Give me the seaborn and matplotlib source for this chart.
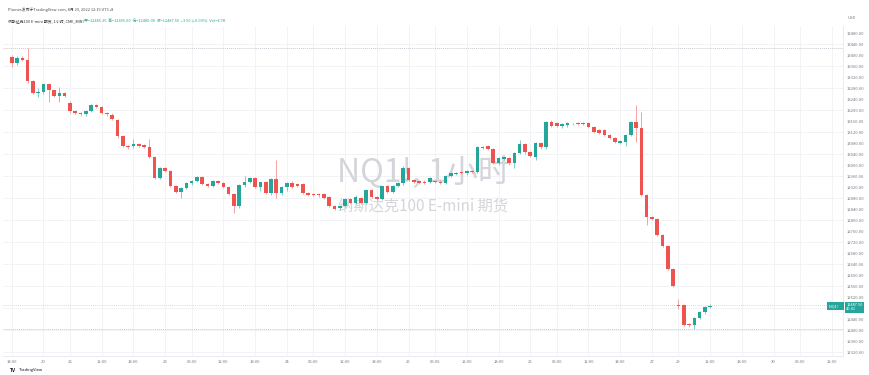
import numpy as np
import pandas as pd
import seaborn as sns
import matplotlib.pyplot as plt

# -----------------------------
# Data: NQ1! hourly bars, 19 Aug 18:00 -> 29 Aug 12:00 (UTC+8)
# -----------------------------
opens = [13393, 13370, 13389, 13382, 13305, 13262, 13266, 13295, 13273, 13251, 13262,
         13225, 13196, 13189, 13185, 13196, 13218, 13210, 13189, 13182, 13164, 13105,
         13069, 13069, 13076, 13072, 13065, 13029, 12953, 12989, 12978, 12924, 12902,
         12916, 12935, 12942, 12956, 12931, 12924, 12942, 12935, 12920, 12895, 12851,
         12927, 12938, 12953, 12920, 12938, 12898, 12949, 12898, 12920, 12935, 12931,
         12931, 12898, 12895, 12895, 12894, 12884, 12851, 12844, 12851, 12876, 12862,
         12880, 12862, 12909, 12884, 12876, 12924, 12902, 12924, 12934, 12989, 12946,
         12942, 12940, 12938, 12942, 12940, 12934, 12960, 12967, 12975, 12971, 12978,
         12975, 13065, 13068, 13058, 13007, 13022, 13025, 13007, 13044, 13076, 13047,
         13030, 13080, 13065, 13156, 13152, 13142, 13146, 13150, 13153, 13149, 13153,
         13138, 13127, 13127, 13109, 13098, 13080, 13084, 13109, 13156, 13134, 12891,
         12811, 12804, 12745, 12705, 12622, 12491, 12491, 12422, 12418, 12444, 12466,
         12485.25]
highs = [13400, 13395, 13396, 13425, 13310, 13280, 13300, 13300, 13278, 13283, 13266,
         13232, 13200, 13192, 13200, 13222, 13222, 13214, 13193, 13188, 13168, 13110,
         13073, 13094, 13080, 13076, 13094, 13033, 12994, 12993, 12982, 12928, 12920,
         12938, 12945, 12960, 12960, 12935, 12945, 12946, 12940, 12924, 12898, 12930,
         12960, 12955, 12958, 12940, 12942, 12952, 13018, 12925, 12938, 12942, 12934,
         12935, 12902, 12900, 12898, 12898, 12888, 12855, 12856, 12880, 12880, 12890,
         12885, 12912, 12914, 12888, 12925, 12928, 12926, 12938, 12995, 12994, 12950,
         12946, 12944, 12956, 12946, 12944, 12962, 12975, 12975, 12980, 12982, 12982,
         13070, 13070, 13072, 13062, 13028, 13032, 13030, 13047, 13092, 13080, 13051,
         13083, 13084, 13160, 13162, 13156, 13152, 13156, 13154, 13156, 13158, 13157,
         13142, 13131, 13132, 13113, 13102, 13090, 13112, 13160, 13218, 13192, 12895,
         12815, 12808, 12750, 12710, 12626, 12512, 12495, 12426, 12448, 12470, 12486,
         12495]
lows = [13356, 13362, 13378, 13300, 13258, 13248, 13260, 13229, 13246, 13230, 13248,
        13190, 13185, 13180, 13180, 13192, 13208, 13186, 13180, 13163, 13100, 13065,
        13060, 13062, 13066, 13062, 13025, 12948, 12948, 12975, 12920, 12898, 12880,
        12912, 12928, 12938, 12928, 12920, 12920, 12930, 12916, 12890, 12825, 12845,
        12920, 12934, 12915, 12905, 12895, 12890, 12880, 12890, 12905, 12916, 12920,
        12895, 12888, 12886, 12885, 12876, 12848, 12836, 12838, 12848, 12858, 12858,
        12858, 12858, 12880, 12872, 12872, 12898, 12898, 12920, 12928, 12942, 12934,
        12930, 12930, 12934, 12934, 12930, 12930, 12955, 12962, 12966, 12962, 12970,
        12970, 13058, 13054, 13004, 13000, 13018, 13000, 12990, 13040, 13040, 13028,
        13020, 13060, 13060, 13138, 13138, 13136, 13140, 13146, 13145, 13146, 13136,
        13116, 13112, 13105, 13094, 13080, 13076, 13070, 13105, 13084, 12886, 12782,
        12800, 12742, 12702, 12618, 12556, 12476, 12414, 12412, 12404, 12440, 12460,
        12480]
closes = [13371, 13389, 13382, 13305, 13262, 13266, 13295, 13273, 13251, 13262, 13251,
          13196, 13189, 13184, 13196, 13218, 13211, 13189, 13185, 13167, 13105, 13069,
          13065, 13076, 13069, 13065, 13029, 12953, 12989, 12978, 12924, 12902, 12916,
          12935, 12942, 12956, 12931, 12924, 12942, 12935, 12920, 12895, 12851, 12927,
          12938, 12953, 12920, 12938, 12898, 12949, 12898, 12920, 12935, 12920, 12924,
          12898, 12891, 12891, 12890, 12880, 12851, 12840, 12851, 12876, 12862, 12884,
          12862, 12909, 12884, 12876, 12924, 12902, 12924, 12934, 12989, 12946, 12938,
          12935, 12934, 12953, 12938, 12934, 12960, 12971, 12971, 12971, 12978, 12975,
          13065, 13062, 13058, 13007, 13025, 13029, 13007, 13044, 13076, 13047, 13033,
          13080, 13065, 13156, 13142, 13142, 13149, 13153, 13148, 13149, 13153, 13138,
          13120, 13116, 13109, 13098, 13084, 13087, 13109, 13156, 13134, 12891, 12811,
          12804, 12745, 12705, 12622, 12560, 12488, 12418, 12418, 12444, 12466, 12484,
          12487.5]

# time axis labels (bar index -> label)
tick_pos = [0, 6, 11, 17, 23, 29, 34, 40, 46, 52, 57, 63, 69, 75, 80, 86, 92, 98,
            103, 109, 115, 121, 126, 132, 138, 144, 149, 155]
tick_labels = ["18:00", "20", "22", "12:00", "18:00", "23", "06:00", "12:00", "18:00",
               "24", "06:00", "12:00", "18:00", "25", "06:00", "12:00", "18:00", "26",
               "06:00", "12:00", "18:00", "27", "29", "12:00", "18:00", "30", "06:00",
               "12:00"]
# price labels (12480 is covered by the last-price tag)
price_ticks = [p for p in range(12320, 13481, 40) if p != 12480]
grid_prices = list(range(12320, 13481, 80))
range_high = 13425
range_low = 12404
ref_line = 12491
last_price = 12487.5

df = pd.DataFrame({"open": opens, "high": highs, "low": lows, "close": closes})
df["bar"] = range(len(df))
df["up"] = df["close"] >= df["open"]

UP, DOWN = "#26a69a", "#ef5350"
colors = np.where(df["up"], UP, DOWN)
wick_colors = np.where(df["up"], "#7fcdc4", "#f5a3a1")

# -----------------------------
# Style
# -----------------------------
sns.set_theme(style="white")
plt.rcParams['font.family'] = ['Noto Sans CJK SC', 'DejaVu Sans']

fig = plt.figure(figsize=(8.7, 3.75), dpi=100)
ax = fig.add_axes([3 / 870, 19 / 375, 840 / 870, 330 / 375])

# grid
for t in tick_pos:
    ax.axvline(t, color="#f0f1f5", lw=0.6, zorder=0)
for g in grid_prices:
    ax.axhline(g, color="#f0f1f5", lw=0.6, zorder=0)

# watermark
ax.text(0.5, 0.555, "NQ1!, 1小时", transform=ax.transAxes, ha="center", va="center",
        fontsize=23, color="#d4d5da", zorder=1)
ax.text(0.5, 0.455, "纳斯达克100 E-mini 期货", transform=ax.transAxes, ha="center",
        va="center", fontsize=11, color="#d4d5da", zorder=1)

# reference lines
ax.axhline(range_high, color="#c9cbd1", lw=0.7, ls=(0, (1, 1)), zorder=1)
ax.axhline(range_low, color="#c9cbd1", lw=0.7, ls=(0, (1, 1)), zorder=1)
ax.axhline(ref_line, color="#f6b8b6", lw=0.6, ls=(0, (1, 1.5)), zorder=1)

# candles
body_h = (df["close"] - df["open"]).abs().clip(lower=2.5)
body_b = df[["open", "close"]].min(axis=1)
ax.vlines(df["bar"], df["low"], df["high"], colors=wick_colors, lw=0.7, zorder=2)
ax.bar(df["bar"], body_h, bottom=body_b, width=0.68, color=colors, linewidth=0, zorder=3)

ax.set_xlim(-1.65, 157.1)
ax.set_ylim(12305.5, 13505.5)

ax.yaxis.tick_right()
ax.set_yticks(price_ticks)
ax.set_yticklabels([f"{p:.2f}" for p in price_ticks])
ax.set_xticks(tick_pos)
ax.set_xticklabels(tick_labels)
ax.tick_params(axis="y", length=0, pad=3, labelsize=3, labelcolor="#787b86")
ax.tick_params(axis="x", length=0, pad=3, labelsize=3, labelcolor="#787b86")
ax.set_xlabel("")
ax.set_ylabel("")
for s in ["top", "left"]:
    ax.spines[s].set_visible(False)
for s in ["right", "bottom"]:
    ax.spines[s].set_color("#e6e8ee")
    ax.spines[s].set_linewidth(0.6)

# price tags on the right axis
ax.text(0.999, last_price, "NQ1!     ", transform=ax.get_yaxis_transform(), ha="right",
        va="center", fontsize=2.8, color="white", zorder=6,
        bbox=dict(boxstyle="square,pad=0.4", fc=UP, ec="none"))
ax.text(1.004, last_price - 5, "12487.50\n40:41", transform=ax.get_yaxis_transform(),
        ha="left", va="center", fontsize=2.8, color="white", linespacing=1.1,
        zorder=6, clip_on=False,
        bbox=dict(boxstyle="square,pad=0.4", fc=UP, ec="none"))
fig.text(848 / 870, 1 - 18 / 375, "USD", fontsize=3, color="#787b86", va="center")

# header
fig.text(8 / 870, 1 - 10 / 375, "Plumes发布于TradingView.com, 8月 29, 2022 12:19 UTC+8",
         fontsize=2.8, color="#4a4a4a", va="center")
fig.text(8 / 870, 1 - 21 / 375, "纳斯达克100 E-mini 期货, 1小时, CME_MINI",
         fontsize=2.8, color="#333333", va="center")
fig.text(84 / 870, 1 - 21 / 375,
         "开=12485.25  高=12495.00  低=12480.00  收=12487.50  +3.50 (+0.03%)  Vol=4.7K",
         fontsize=2.8, color=UP, va="center")

# footer logo
fig.text(10 / 870, 1 - 370 / 375, "TV", fontsize=3.5, color="#131722",
         fontweight="bold", va="center")
fig.text(19 / 870, 1 - 370 / 375, "TradingView", fontsize=3, color="#131722", va="center")

plt.savefig("out.png", dpi=100)
